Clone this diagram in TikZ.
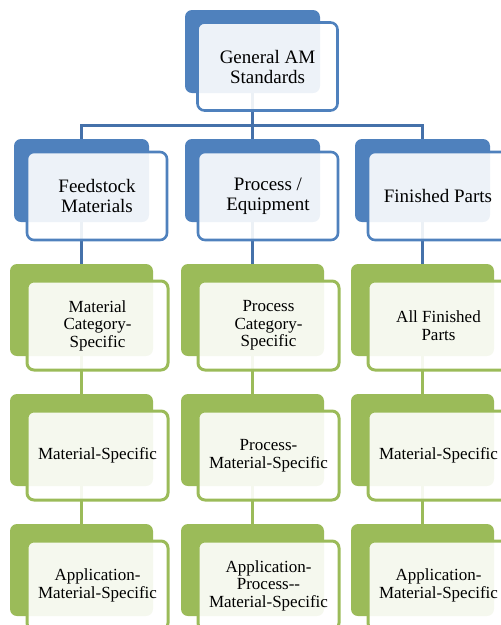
\documentclass[tikz,border=0pt]{standalone}
\usepackage{fontspec}
\setmainfont{Liberation Serif}
\definecolor{amblue}{HTML}{4F81BD}
\definecolor{amline}{HTML}{4571AA}
\definecolor{amgreen}{HTML}{9BBB59}
\pgfdeclarelayer{links}
\pgfsetlayers{links,main}
\tikzset{
  cardback/.style={rectangle, rounded corners=7pt, inner sep=0pt},
  cardfront/.style={rectangle, rounded corners=7pt, fill=white, fill opacity=0.9,
    text opacity=1, align=center, inner sep=0pt, text=black},
  bluebk/.style={cardback, fill=amblue, minimum width=135pt, minimum height=83pt},
  bluefr/.style={cardfront, draw=amblue, line width=2.6pt, minimum width=140pt,
    minimum height=88pt, font=\fontsize{19}{20}\selectfont},
  greenbk/.style={cardback, fill=amgreen, minimum width=143pt, minimum height=92pt},
  greenfr/.style={cardfront, draw=amgreen, line width=3pt, minimum width=141pt,
    minimum height=89pt, font=\fontsize{17}{17.5}\selectfont},
  bluelink/.style={draw=amline, line width=3pt},
  greenlink/.style={draw=amgreen, line width=3pt}
}
\begin{document}
\begin{tikzpicture}[x=1pt,y=-1pt]
\useasboundingbox (0,0) rectangle (501,625);
\clip (0,0) rectangle (501,625);

% top card
\node[bluebk] (topb) at (252.5,51.5) {};
\node[bluefr] (top) at (267.5,66.5) {General AM\\Standards};

% second row: three categories
\node[bluebk] (feedb) at (81.5,180.5) {};
\node[bluefr] (feed) at (97,196) {Feedstock\\Materials};
\node[bluebk] (procb) at (252.5,180.5) {};
\node[bluefr] (proc) at (268,196) {Process /\\Equipment};
\node[bluebk] (partb) at (422.5,180.5) {};
\node[bluefr] (part) at (438,196) {Finished Parts};

% feedstock column
\node[greenbk] (fa) at (81.5,310) {};
\node[greenfr] (fat) at (97.5,325.5) {Material\\Category-\\Specific};
\node[greenbk] (fb) at (81.5,440) {};
\node[greenfr] (fbt) at (97.5,455.5) {Material-Specific};
\node[greenbk] (fc) at (81.5,570) {};
\node[greenfr] (fct) at (97.5,585.5) {Application-\\Material-Specific};

% process column
\node[greenbk] (pa) at (252.5,310) {};
\node[greenfr] (pat) at (268.5,325.5) {Process\\Category-\\Specific};
\node[greenbk] (pb) at (252.5,440) {};
\node[greenfr] (pbt) at (268.5,455.5) {Process-\\Material-Specific};
\node[greenbk] (pc) at (252.5,570) {};
\node[greenfr] (pct) at (268.5,585.5) {Application-\\Process-{}-\\Material-Specific};

% finished parts column
\node[greenbk] (ra) at (422.5,310) {};
\node[greenfr] (rat) at (438.5,325.5) {All Finished\\Parts};
\node[greenbk] (rb) at (422.5,440) {};
\node[greenfr] (rbt) at (438.5,455.5) {Material-Specific};
\node[greenbk] (rc) at (422.5,570) {};
\node[greenfr] (rct) at (438.5,585.5) {Application-\\Material-Specific};

% connectors, kept behind the cards
\begin{pgfonlayer}{links}
\coordinate (bus) at (0,125);
\draw[bluelink] (topb.south) -- (topb.south |- bus);
\draw[bluelink] (feedb.north) |- (partb.north |- bus) -- (partb.north);
\draw[bluelink] (procb.north) -- (procb.north |- bus);
\draw[bluelink] (feedb.south) -- (fa.north);
\draw[bluelink] (procb.south) -- (pa.north);
\draw[bluelink] (partb.south) -- (ra.north);
\draw[greenlink] (fa.south) -- (fb.north);
\draw[greenlink] (fb.south) -- (fc.north);
\draw[greenlink] (pa.south) -- (pb.north);
\draw[greenlink] (pb.south) -- (pc.north);
\draw[greenlink] (ra.south) -- (rb.north);
\draw[greenlink] (rb.south) -- (rc.north);
\end{pgfonlayer}
\end{tikzpicture}
\end{document}
